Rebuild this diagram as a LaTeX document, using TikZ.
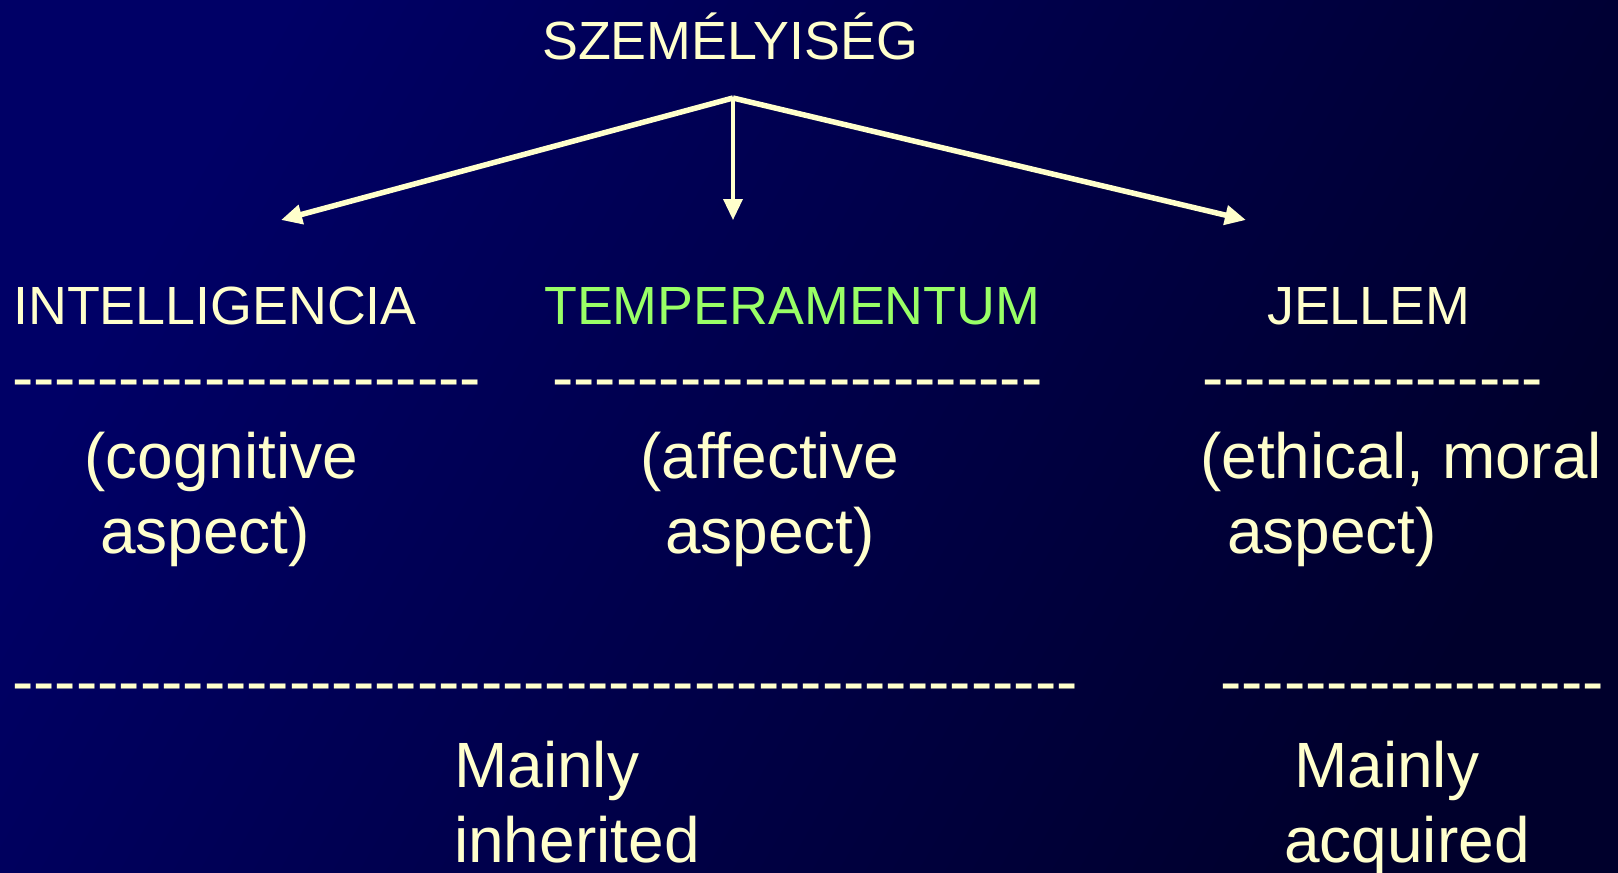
\documentclass[tikz,border=0pt]{standalone}
\usepackage{fontspec}
\setmainfont{Liberation Sans}
\usetikzlibrary{arrows.meta}

\definecolor{cream}{HTML}{FFFFCC}
\definecolor{lime}{HTML}{99FF66}
\definecolor{bgtop}{HTML}{000066}
\definecolor{bgbot}{HTML}{00002C}

\newcommand\dashrow[1]{\foreach \k in {1,...,#1}{-\kern0pt}}

\begin{document}
\begin{tikzpicture}[x=1pt,y=-1pt,
  txt/.style={anchor=base west,inner sep=0pt,text=cream},
  head/.style={txt,font=\fontsize{53.8}{64}\selectfont},
  big/.style={txt,font=\fontsize{64}{75}\selectfont},
  arr/.style={cream,-{Triangle[length=21pt,width=19pt]}}]
  \shade[left color=bgtop,right color=bgbot,shading angle=60] (0,0) rectangle (1618,873);
  \useasboundingbox (0,0) rectangle (1618,873);
  % title and the three parts
  \node[head] (title) at (542,59) {SZEMÉLYISÉG};
  \node[head] (intel) at (13,324) {INTELLIGENCIA};
  \node[head,text=lime] (temper) at (544,324) {TEMPERAMENTUM};
  \node[head] (jell) at (1267,324) {JELLEM};
  % arrows
  \coordinate (hub) at (733,98);
  \coordinate (tipL) at (281,220);
  \coordinate (tipM) at (733,220);
  \coordinate (tipR) at (1246,220);
  \draw[arr,line width=5.5pt] (hub) -- (tipL);
  \draw[arr,line width=3.5pt] (hub) -- (tipM);
  \draw[arr,line width=5.5pt] (hub) -- (tipR);
  % dashed rows under the headings
  \node[big] (dashA) at (12,399) {\dashrow{22}};
  \node[big] (dashB) at (552,399) {\dashrow{23}};
  \node[big] (dashC) at (1202,399) {\dashrow{16}};
  % aspects
  \node[big] (cog) at (84,478) {(cognitive};
  \node[big] (cogb) at (100,553) {aspect)};
  \node[big] (aff) at (640,478) {(affective};
  \node[big] (affb) at (665,553) {aspect)};
  \node[big] (eth) at (1200,478) {(ethical, moral};
  \node[big] (ethb) at (1227,553) {aspect)};
  % bottom rows
  \node[big] (dashD) at (12,703) {\dashrow{50}};
  \node[big] (dashE) at (1220,703) {\dashrow{18}};
  \node[big] (inh) at (454,787) {Mainly};
  \node[big] (inhb) at (454,862) {inherited};
  \node[big] (acq) at (1294,787) {Mainly};
  \node[big] (acqb) at (1284,862) {acquired};
\end{tikzpicture}
\end{document}
